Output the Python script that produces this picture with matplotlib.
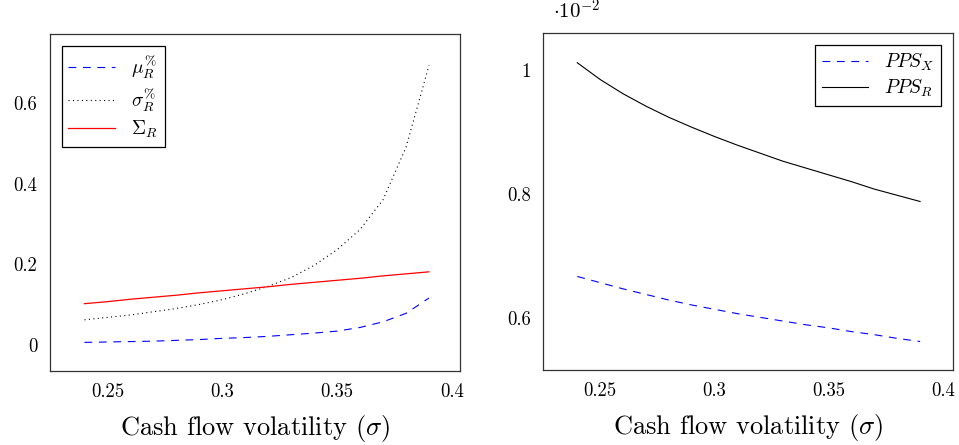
import matplotlib
matplotlib.use('Agg')
import matplotlib.pyplot as plt

plt.rcParams['font.family'] = 'cmr10'
plt.rcParams['mathtext.fontset'] = 'cm'
plt.rcParams['axes.formatter.use_mathtext'] = True

# Cash flow volatility grid
sigma = [0.24, 0.25, 0.26, 0.27, 0.28, 0.29, 0.30, 0.31,
         0.32, 0.33, 0.34, 0.35, 0.36, 0.37, 0.38, 0.39]

# Left panel series
mu_r = [0.006, 0.007, 0.008, 0.009, 0.011, 0.013, 0.016, 0.018,
        0.021, 0.025, 0.029, 0.034, 0.043, 0.057, 0.078, 0.116]
sigma_r = [0.062, 0.068, 0.074, 0.082, 0.090, 0.100, 0.112, 0.127,
           0.145, 0.167, 0.197, 0.236, 0.286, 0.360, 0.490, 0.693]
big_sigma_r = [0.102, 0.107, 0.113, 0.118, 0.123, 0.129, 0.134, 0.139,
               0.144, 0.150, 0.155, 0.160, 0.165, 0.171, 0.176, 0.181]

# Right panel series (units of 1e-2)
pps_x = [0.667, 0.657, 0.647, 0.638, 0.629, 0.621, 0.614, 0.607,
         0.601, 0.595, 0.589, 0.584, 0.578, 0.573, 0.567, 0.562]
pps_r = [1.012, 0.985, 0.962, 0.942, 0.924, 0.908, 0.893, 0.879,
         0.866, 0.853, 0.842, 0.831, 0.820, 0.808, 0.798, 0.788]

x_ticks = [0.25, 0.3, 0.35, 0.4]
x_tick_labels = ['0.25', '0.3', '0.35', '0.4']

fig = plt.figure(figsize=(9.59, 4.45), dpi=100)
W, H = 959, 445

ax1 = fig.add_axes([50 / W, (H - 371) / H, 410 / W, 337 / H])
ax2 = fig.add_axes([543 / W, (H - 370) / H, 410 / W, 337 / H])

# Left panel
ax1.plot(sigma, mu_r, color='blue', linestyle=(0, (7, 6)), lw=0.8, label=r'$\mu_R^{\%}$')
ax1.plot(sigma, sigma_r, color='black', linestyle=(0, (1, 3)), lw=0.8, label=r'$\sigma_R^{\%}$')
ax1.plot(sigma, big_sigma_r, color='red', lw=0.9, label=r'$\Sigma_R$')
ax1.set_xlim(0.225, 0.4035)
ax1.set_ylim(-0.065, 0.771)
ax1.set_yticks([0, 0.2, 0.4, 0.6])
ax1.set_yticklabels(['0', '0.2', '0.4', '0.6'])

# Right panel
ax2.plot(sigma, pps_x, color='blue', linestyle=(0, (7, 6)), lw=0.8, label=r'$PPS_X$')
ax2.plot(sigma, pps_r, color='black', lw=0.8, label=r'$PPS_R$')
ax2.set_xlim(0.225, 0.4044)
ax2.set_ylim(0.516, 1.06)
ax2.set_yticks([0.6, 0.8, 1.0])
ax2.set_yticklabels(['0.6', '0.8', '1'])
ax2.text(0.025, 1.03, r'$\cdot 10^{-2}$', transform=ax2.transAxes, fontsize=15,
         ha='left', va='bottom')

for ax in (ax1, ax2):
    ax.set_xticks(x_ticks)
    ax.set_xticklabels(x_tick_labels)
    ax.tick_params(length=0, labelsize=13.5, pad=9)
    ax.set_xlabel(r'Cash flow volatility $(\sigma)$', fontsize=19, labelpad=8)
    for s in ax.spines.values():
        s.set_linewidth(0.9)
        s.set_color('#333333')

leg1 = ax1.legend(loc='upper left', fontsize=14, fancybox=False, edgecolor='black',
                  framealpha=1, borderaxespad=0.6, handlelength=2.4, labelspacing=0.25,
                  borderpad=0.35)
leg1.get_frame().set_linewidth(0.9)
leg2 = ax2.legend(loc='upper right', fontsize=14, fancybox=False, edgecolor='black',
                  framealpha=1, borderaxespad=0.6, handlelength=2.4, labelspacing=0.25,
                  borderpad=0.35)
leg2.get_frame().set_linewidth(0.9)

fig.savefig('out.png', dpi=100)
